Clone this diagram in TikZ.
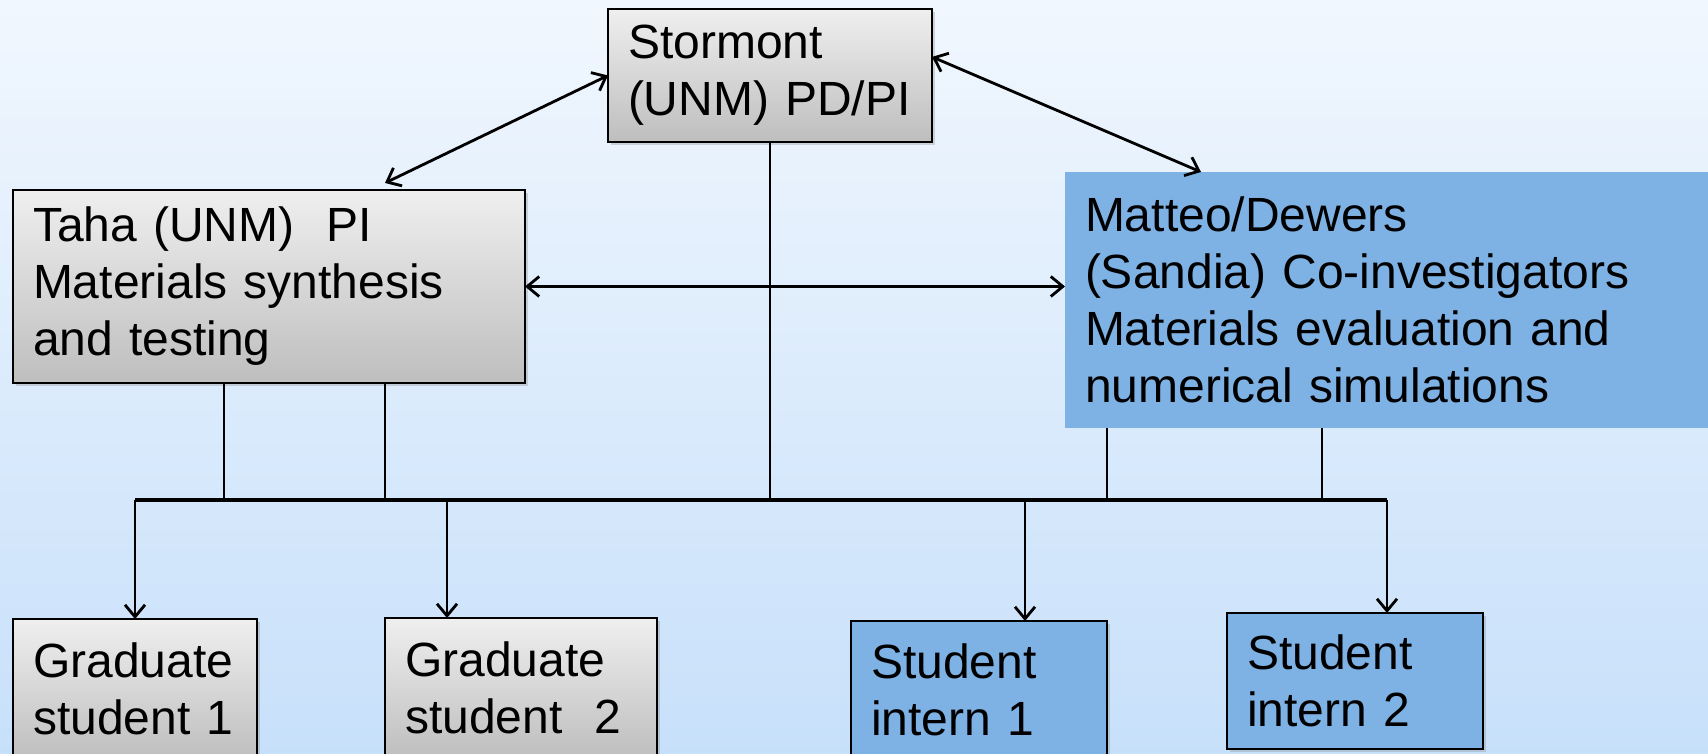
\documentclass[tikz,border=0pt]{standalone}
\usepackage{fontspec}
\setmainfont{Liberation Sans}
\usetikzlibrary{arrows.meta,shadows,calc}

\definecolor{bgtop}{RGB}{241,247,254}
\definecolor{bgbot}{RGB}{199,224,250}
\definecolor{greytop}{RGB}{239,239,239}
\definecolor{greybot}{RGB}{190,190,190}
\definecolor{sandia}{RGB}{126,177,228}

\tikzset{
  box/.style={anchor=north west, align=left, inner xsep=10pt, outer sep=0pt,
    font=\fontsize{24}{28.5}\selectfont},
  unm/.style={box, draw=black, line width=1.1pt, top color=greytop, bottom color=greybot,
    drop shadow={shadow xshift=1.5pt, shadow yshift=-1.5pt, opacity=0.3}},
  snl/.style={box, fill=sandia},
  intern/.style={snl, draw=black, line width=1.1pt,
    drop shadow={shadow xshift=1.5pt, shadow yshift=-1.5pt, opacity=0.3}},
  link/.style={line width=1.4pt},
  busline/.style={line width=2pt},
  arr/.style={link, -{Straight Barb[length=6pt,width=10pt]}},
  twoway/.style={link, {Straight Barb[length=6pt,width=10pt]}-{Straight Barb[length=6pt,width=10pt]}},
}

\begin{document}
\begin{tikzpicture}[x=0.5pt, y=-0.5pt]

  % Background
  \useasboundingbox (0,0) rectangle (1708,754);
  \clip (0,0) rectangle (1708,754);
  \shade[top color=bgtop, bottom color=bgbot] (0,0) rectangle (1708,754);

  % Define nodes
  \node[unm, text width=142pt, minimum height=66.5pt] (stormont) at (608,9) {Stormont\\(UNM) PD/PI};
  \node[unm, text width=236pt, minimum height=96.5pt] (taha) at (13,190) {Taha (UNM)\ \ PI\\Materials synthesis\\and testing};
  \node[snl, text width=310pt, minimum height=128pt] (matteo) at (1065,172) {Matteo/Dewers\\(Sandia) Co-investigators\\Materials evaluation and\\numerical simulations};
  \node[unm, text width=102pt, minimum height=70pt] (grad1) at (13,619) {Graduate\\student 1};
  \node[unm, text width=116pt, minimum height=70pt] (grad2) at (385,618) {Graduate\\student\ \ 2};
  \node[intern, text width=108pt, minimum height=69pt] (intern1) at (851,621) {Student\\intern 1};
  \node[intern, text width=108pt, minimum height=68pt] (intern2) at (1227,613) {Student\\intern 2};

  % Taps and drops on the bus
  \coordinate (bus) at (0,500);
  \coordinate (t1) at ([xshift=105.5pt]taha.south west);
  \coordinate (t2) at ([xshift=186pt]taha.south west);
  \coordinate (m1) at ([xshift=21pt]matteo.south west);
  \coordinate (m2) at ([xshift=128.5pt]matteo.south west);
  \coordinate (g1) at (grad1.north);
  \coordinate (g2) at ([xshift=31pt]grad2.north west);
  \coordinate (i1) at ([xshift=87pt]intern1.north west);
  \coordinate (i2) at ([xshift=80pt]intern2.north west);

  % Connect the nodes
  \draw[twoway] (stormont.west) -- ([xshift=186pt, yshift=3.5pt]taha.north west);
  \draw[twoway] ($(stormont.north east)!0.36!(stormont.south east)$) -- ([xshift=68pt]matteo.north west);
  \draw[twoway] (taha.east) -- (taha.east -| matteo.west);

  \draw[link] (stormont.south) -- (stormont.south |- bus);
  \foreach \c in {t1,t2,m1,m2}
    \draw[link] (\c) -- (\c |- bus);
  \draw[busline] (g1 |- bus) -- (i2 |- bus);
  \foreach \c in {g1,g2,i1,i2}
    \draw[arr] (\c |- bus) -- (\c);

\end{tikzpicture}
\end{document}
